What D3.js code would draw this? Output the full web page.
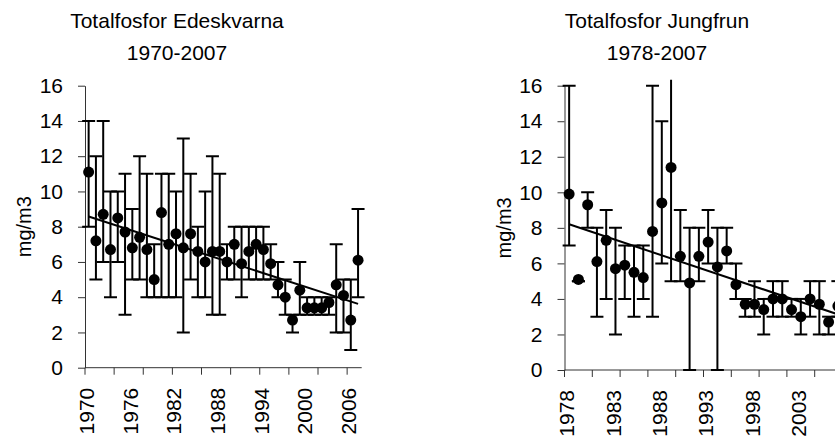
<!DOCTYPE html>
<html>
<head>
<meta charset="utf-8">
<script src="https://cdn.jsdelivr.net/npm/d3@7.9.0/dist/d3.min.js"></script>
<style>
  body { margin: 0; background: #fff; }
  svg text { font-family: "Liberation Sans", Arial, sans-serif; fill: #000; }
</style>
</head>
<body>
<svg id="chart" width="835" height="442"></svg>
<script>
// Edeskvarna 1970-2007: yearly mean with min/max range (mg/m3)
const edeskYears = d3.range(1970, 2008);
const edeskMean = [11.1, 7.2, 8.7, 6.7, 8.5, 7.7, 6.8, 7.4, 6.7, 5.0,
                   8.8, 7.0, 7.6, 6.8, 7.6, 6.6, 6.0, 6.6, 6.6, 6.0,
                   7.0, 5.9, 6.6, 7.0, 6.7, 5.9, 4.7, 4.0, 2.7, 4.4,
                   3.4, 3.4, 3.4, 3.7, 4.7, 4.1, 2.7, 6.1];
const edeskMin = [8, 5, 6, 4, 6, 3, 5, 5, 4, 4,
                  4, 4, 4, 2, 5, 4, 4, 3, 3, 5,
                  5, 4, 5, 5, 5, 5, 4, 3, 2, 3,
                  3, 3, 3, 3, 2, 2, 1, 4];
const edeskMax = [14, 12, 14, 10, 10, 11, 9, 12, 11, 7,
                  11, 11, 10, 13, 11, 8, 10, 12, 11, 7,
                  8, 8, 8, 8, 8, 7, 6, 5, 3, 6,
                  4, 4, 4, 4, 7, 5, 5, 9];

// Jungfrun 1978-2007
const jungYears = d3.range(1978, 2008);
const jungMean = [9.9, 5.1, 9.3, 6.1, 7.3, 5.7, 5.9, 5.5, 5.2, 7.8,
                  9.4, 11.4, 6.4, 4.9, 6.4, 7.2, 5.8, 6.7, 4.8, 3.7,
                  3.7, 3.4, 4.0, 4.0, 3.4, 3.0, 4.0, 3.7, 2.7, 3.6];
const jungMin = [7, 5, 8, 3, 4, 2, 4, 3, 4, 3,
                 6, 5, 5, 0, 5, 6, 0, 6, 4, 3,
                 3, 2, 3, 3, 3, 2, 3, 2, 2, 3];
const jungMax = [16, 5, 10, 8, 9, 8, 7, 7, 7, 16,
                 14, 17, 9, 8, 8, 9, 8, 8, 6, 4,
                 5, 4, 5, 5, 4, 4, 5, 5, 3, 5];

const yTicks = [0, 2, 4, 6, 8, 10, 12, 14, 16];
const yLabel = 'mg/m3';

const svg = d3.select('#chart');
svg.append('rect').attr('width', 835).attr('height', 442).attr('fill', '#fff');

// least squares line over category index
function linearFit(vals) {
  const n = vals.length;
  const mx = (n - 1) / 2;
  const my = d3.mean(vals);
  let sxy = 0, sxx = 0;
  vals.forEach((v, i) => { sxy += (i - mx) * (v - my); sxx += (i - mx) * (i - mx); });
  const slope = sxy / sxx;
  return (i) => my + slope * (i - mx);
}

function drawPanel(p) {
  const x = d3.scaleBand().domain(p.years).range(p.xRange).padding(0);
  const y = d3.scaleLinear().domain([0, 16]).range(p.yRange);
  const cx = (yr) => x(yr) + x.bandwidth() / 2;
  const g = svg.append('g');

  // title
  const title = g.append('text')
    .attr('text-anchor', 'middle')
    .attr('font-size', 21);
  title.append('tspan').attr('x', p.titleX).attr('y', 28).text(p.title);
  title.append('tspan').attr('x', p.titleX).attr('y', 60).text(p.subtitle);

  // y axis
  const yAxis = g.append('g')
    .attr('transform', `translate(${p.xRange[0]},0)`)
    .call(d3.axisLeft(y).tickValues(yTicks).tickSize(7).tickSizeOuter(0).tickPadding(15));
  yAxis.attr('font-size', 21).attr('font-family', null);
  yAxis.selectAll('path, line').attr('stroke', '#333');

  g.append('text')
    .attr('transform', `translate(${p.xRange[0] - 54},${(p.yRange[0] + p.yRange[1]) / 2}) rotate(-90)`)
    .attr('text-anchor', 'middle')
    .attr('font-size', 20)
    .text(yLabel);

  // x axis (category axis, ticks between categories)
  const y0 = y(0);
  g.append('line')
    .attr('x1', p.xRange[0]).attr('x2', p.xRange[1])
    .attr('y1', y0).attr('y2', y0)
    .attr('stroke', '#333');
  g.selectAll('.xtick')
    .data(p.years.filter((d, i) => i % p.tickEvery === 0))
    .join('line')
    .attr('class', 'xtick')
    .attr('x1', (d) => x(d)).attr('x2', (d) => x(d))
    .attr('y1', y0).attr('y2', y0 + 7)
    .attr('stroke', '#333');
  g.selectAll('.xlabel')
    .data(p.years.filter((d, i) => i % p.labelEvery === 0))
    .join('text')
    .attr('class', 'xlabel')
    .attr('transform', (d) => `translate(${cx(d) - 2},${y0 + 20}) rotate(-90)`)
    .attr('text-anchor', 'end')
    .attr('dy', '0.35em')
    .attr('font-size', 21)
    .text((d) => d);

  // error bars, clipped just above the top of the value axis
  const clipId = 'clip-' + p.years[0];
  g.append('clipPath').attr('id', clipId)
    .append('rect')
    .attr('x', p.xRange[0] - 10).attr('y', y(16) - 6)
    .attr('width', p.xRange[1] - p.xRange[0] + 20)
    .attr('height', y(0) - y(16) + 12);

  const bars = g.append('g').attr('clip-path', `url(#${clipId})`)
    .attr('stroke', '#000').attr('stroke-width', 2);
  const capW = 6.5;
  p.years.forEach((yr, i) => {
    const xc = cx(yr);
    bars.append('line').attr('x1', xc).attr('x2', xc)
      .attr('y1', y(p.min[i])).attr('y2', y(p.max[i]));
    [p.min[i], p.max[i]].forEach((v) => {
      bars.append('line').attr('x1', xc - capW).attr('x2', xc + capW)
        .attr('y1', y(v)).attr('y2', y(v));
    });
  });

  // linear trend
  const fit = linearFit(p.mean);
  const n = p.years.length;
  g.append('line')
    .attr('x1', cx(p.years[0])).attr('y1', y(fit(0)))
    .attr('x2', cx(p.years[n - 1])).attr('y2', y(fit(n - 1)))
    .attr('stroke', '#000').attr('stroke-width', 2);

  // markers
  g.selectAll('.dot')
    .data(p.years)
    .join('circle')
    .attr('class', 'dot')
    .attr('cx', (d) => cx(d))
    .attr('cy', (d, i) => y(p.mean[i]))
    .attr('r', 5.5)
    .attr('fill', '#000');
}

drawPanel({
  years: edeskYears, mean: edeskMean, min: edeskMin, max: edeskMax,
  xRange: [85, 361.7], yRange: [367.7, 85.7],
  tickEvery: 4, labelEvery: 6,
  title: 'Totalfosfor Edeskvarna', subtitle: '1970-2007', titleX: 177
});

drawPanel({
  years: jungYears, mean: jungMean, min: jungMin, max: jungMax,
  xRange: [564.5, 842.5], yRange: [370, 85.7],
  tickEvery: 3, labelEvery: 5,
  title: 'Totalfosfor Jungfrun', subtitle: '1978-2007', titleX: 657
});
</script>
</body>
</html>
